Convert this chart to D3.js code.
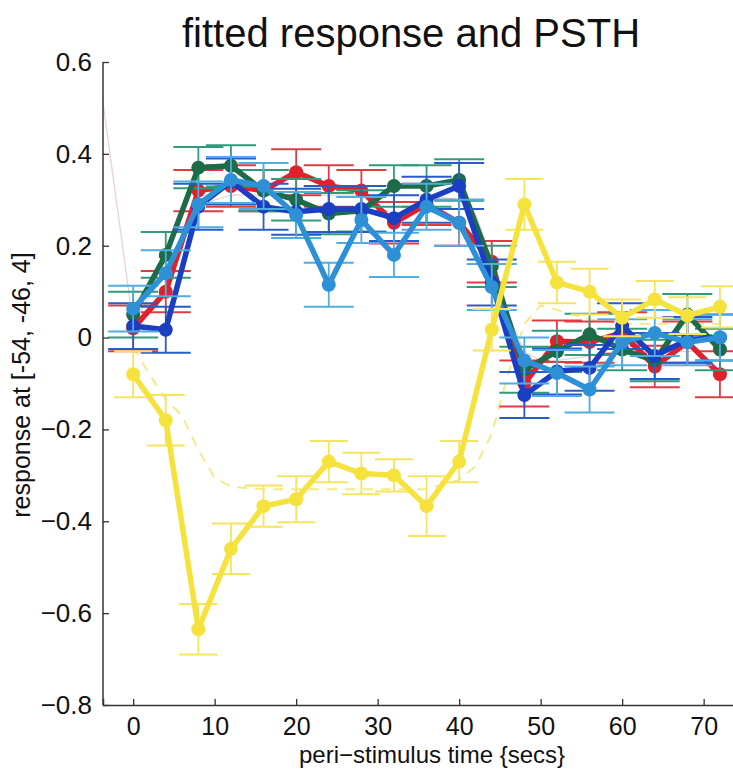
<!DOCTYPE html>
<html><head><meta charset="utf-8">
<script src="https://cdn.jsdelivr.net/npm/d3@7"></script>
<style>body{margin:0;background:#fff}svg{display:block}text{font-family:"Liberation Sans",Arial,sans-serif}</style>
</head><body>
<script>
const times = [0,4,8,12,16,20,24,28,32,36,40,44,48,52,56,60,64,68,72];
const xTicks = [0,10,20,30,40,50,60,70];
const yTicks = [-0.8,-0.6,-0.4,-0.2,0,0.2,0.4,0.6];

const redVals   = [0.02,0.10,0.32,0.33,0.32,0.36,0.33,0.32,0.25,0.29,0.25,0.165,-0.10,-0.008,-0.01,0.01,-0.063,-0.01,-0.08];
const redErr    = [0.05,0.045,0.045,0.045,0.045,0.05,0.045,0.045,0.045,0.045,0.05,0.045,0.05,0.045,0.045,0.045,0.045,0.045,0.05];
const greenVals = [0.05,0.18,0.37,0.374,0.32,0.30,0.27,0.276,0.33,0.33,0.343,0.155,-0.07,-0.03,0.007,-0.026,-0.05,0.05,-0.026];
const greenErr  = [0.05,0.05,0.045,0.045,0.045,0.045,0.045,0.045,0.045,0.045,0.045,0.045,0.05,0.045,0.045,0.045,0.045,0.045,0.045];
const navyVals  = [0.025,0.017,0.285,0.34,0.285,0.274,0.28,0.28,0.26,0.30,0.33,0.12,-0.125,-0.074,-0.066,0.025,-0.04,-0.005,0.0];
const navyErr   = [0.05,0.05,0.05,0.05,0.05,0.05,0.05,0.05,0.05,0.05,0.05,0.05,0.05,0.05,0.05,0.05,0.05,0.05,0.05];
const skyVals   = [0.063,0.14,0.29,0.343,0.33,0.267,0.115,0.256,0.18,0.285,0.25,0.11,-0.05,-0.077,-0.113,-0.01,0.01,-0.01,0.0];
const skyErr    = [0.05,0.05,0.05,0.05,0.05,0.05,0.048,0.05,0.048,0.05,0.05,0.05,0.05,0.05,0.05,0.05,0.05,0.05,0.05];
const yellowVals= [-0.08,-0.18,-0.635,-0.46,-0.367,-0.352,-0.27,-0.296,-0.30,-0.367,-0.27,0.017,0.29,0.12,0.10,0.043,0.083,0.048,0.067];
const yellowErr = [0.05,0.055,0.055,0.055,0.045,0.05,0.045,0.045,0.035,0.065,0.045,0.045,0.055,0.045,0.05,0.04,0.04,0.04,0.045];

const yellowFitTimes = [0,2,4,6,8,10,12,16,20,24,28,32,36,40,42,44,46,48,50,52,56,60,64,68,72];
const yellowFit = [-0.02,-0.08,-0.135,-0.17,-0.245,-0.305,-0.325,-0.33,-0.33,-0.33,-0.33,-0.33,-0.33,-0.31,-0.28,-0.21,-0.08,0.03,0.07,0.06,0.04,0.03,0.03,0.03,0.03];
const othersFitTimes = [-4,0,2,4,6,8,10,12,16,20,24,28,32,36,40,42,44,46,48,50,52,56,60,64,68,72];
const othersFit = [0.55,0.03,0.09,0.15,0.22,0.28,0.30,0.31,0.31,0.31,0.31,0.31,0.31,0.31,0.30,0.27,0.17,0.05,-0.03,-0.05,-0.05,-0.04,-0.03,-0.03,-0.03,-0.03];

const series = [
  {vals: redVals,   err: redErr,   line: "#e0202c", bar: "#e23a44"},
  {vals: greenVals, err: greenErr, line: "#1d6b48", bar: "#2f9a7c"},
  {vals: navyVals,  err: navyErr,  line: "#1b3fc2", bar: "#2a5cc8"},
  {vals: skyVals,   err: skyErr,   line: "#2e90d6", bar: "#4eaee0"},
  {vals: yellowVals,err: yellowErr,line: "#f5e23c", bar: "#f5e460", cap: 19}
];

const W = 733, H = 769;
const svg = d3.select("body").append("svg").attr("width", W).attr("height", H);
const x = d3.scaleLinear().domain([-3.7, 76]).range([103, 103 + 79.7 * 8.15]);
const y = d3.scaleLinear().domain([-0.8, 0.6]).range([705, 62]);

svg.append("defs").append("clipPath").attr("id","clip")
  .append("rect").attr("x",103).attr("y",0).attr("width",W-103).attr("height",705);

const plot = svg.append("g").attr("clip-path","url(#clip)");

const lineGen = d3.line().x(d=>x(d[0])).y(d=>y(d[1]));

// fitted curves (faint)
plot.append("path").datum(othersFitTimes.map((t,i)=>[t,othersFit[i]]))
  .attr("d", lineGen).attr("fill","none").attr("stroke","#ead2d4").attr("stroke-width",1.3);
plot.append("path").datum(yellowFitTimes.map((t,i)=>[t,yellowFit[i]]))
  .attr("d", lineGen).attr("fill","none").attr("stroke","#f6e98a").attr("stroke-width",2).attr("stroke-dasharray","10,8");

series.forEach(s => {
  const g = plot.append("g");
  const pts = times.map((t,i)=>({t, v:s.vals[i], e:s.err[i]}));
  const cw = s.cap || 25;
  const eb = g.selectAll(".eb").data(pts).enter().append("g");
  eb.append("line").attr("x1",d=>x(d.t)).attr("x2",d=>x(d.t)).attr("y1",d=>y(d.v-d.e)).attr("y2",d=>y(d.v+d.e))
    .attr("stroke",s.bar).attr("stroke-width",1.8);
  eb.append("line").attr("x1",d=>x(d.t)-cw).attr("x2",d=>x(d.t)+cw).attr("y1",d=>y(d.v-d.e)).attr("y2",d=>y(d.v-d.e))
    .attr("stroke",s.bar).attr("stroke-width",2);
  eb.append("line").attr("x1",d=>x(d.t)-cw).attr("x2",d=>x(d.t)+cw).attr("y1",d=>y(d.v+d.e)).attr("y2",d=>y(d.v+d.e))
    .attr("stroke",s.bar).attr("stroke-width",2);
  g.append("path").datum(pts.map(d=>[d.t,d.v])).attr("d",lineGen)
    .attr("fill","none").attr("stroke",s.line).attr("stroke-width",5.5).attr("stroke-linejoin","round");
  g.selectAll("circle").data(pts).enter().append("circle")
    .attr("cx",d=>x(d.t)).attr("cy",d=>y(d.v)).attr("r",7).attr("fill",s.line);
});

// axes
const fmt = d => d === 0 ? "0" : d3.format(".1f")(d).replace("-", "\u2212");
const yAxis = d3.axisLeft(y).tickValues(yTicks).tickSize(-6).tickPadding(11).tickFormat(fmt);
const xAxis = d3.axisBottom(x).tickValues(xTicks).tickSize(-6).tickPadding(12).tickFormat(d=>d);

const ya = svg.append("g").attr("transform","translate(103,0)").call(yAxis);
const xa = svg.append("g").attr("transform","translate(0,705)").call(xAxis);
[ya, xa].forEach(a => {
  a.select(".domain").attr("stroke","#333").attr("stroke-width",1.5);
  a.selectAll(".tick line").attr("stroke","#333").attr("stroke-width",1.3);
  a.selectAll(".tick text").attr("fill","#111").style("font-size","26px").style("font-family","'Liberation Sans',Arial,sans-serif");
});
xa.selectAll(".tick text").style("font-size","25px");
ya.select(".domain").attr("d","M-0,62H0V705H0");

svg.append("text").attr("x",432).attr("y",763).attr("text-anchor","middle")
  .style("font-size","24px").attr("fill","#111").text("peri\u2212stimulus time {secs}");
svg.append("text").attr("x",411).attr("y",47).attr("text-anchor","middle")
  .style("font-size","40px").attr("fill","#111").text("fitted response and PSTH");
svg.append("text").attr("transform","translate(30,385) rotate(-90)").attr("text-anchor","middle")
  .style("font-size","25px").attr("fill","#111").text("response at [-54, -46, 4]");
</script>
</body></html>
